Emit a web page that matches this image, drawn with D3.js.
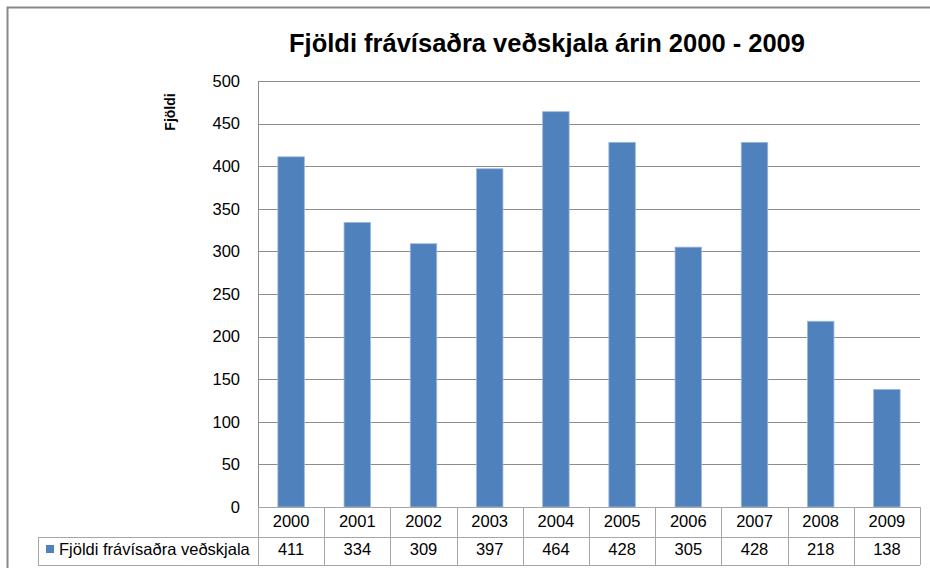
<!DOCTYPE html>
<html>
<head>
<meta charset="utf-8">
<script src="https://cdn.jsdelivr.net/npm/d3@7"></script>
<style>
  html, body { margin: 0; padding: 0; background: #fff; }
  svg { display: block; }
</style>
</head>
<body>
<svg id="chart" width="930" height="568"></svg>
<script>
const years = ["2000","2001","2002","2003","2004","2005","2006","2007","2008","2009"];
const values = [411, 334, 309, 397, 464, 428, 305, 428, 218, 138];
const yTicks = [0, 50, 100, 150, 200, 250, 300, 350, 400, 450, 500];
const seriesName = "Fjöldi frávísaðra veðskjala";
const chartTitle = "Fjöldi frávísaðra veðskjala árin 2000 - 2009";
const yTitle = "Fjöldi";

(function () {
const FONT = "'Liberation Sans', Arial, sans-serif";
const svg = d3.select("#chart");

// outer frame
svg.append("path")
  .attr("d", "M7.5,568 V7.5 H930")
  .attr("fill", "none").attr("stroke", "#888").attr("stroke-width", 2);

const pL = 258, pR = 920, pT = 81, pB = 507;
const x = d3.scaleBand().domain(years).range([pL, pR]).padding(0);
const y = d3.scaleLinear().domain([0, 500]).range([pB, pT]);

// gridlines
svg.append("g").selectAll("line").data(yTicks.filter(d => d > 0)).join("line")
  .attr("x1", pL).attr("x2", pR)
  .attr("y1", d => Math.round(y(d)) + 0.5).attr("y2", d => Math.round(y(d)) + 0.5)
  .attr("stroke", "#8c8c8c").attr("stroke-width", 1);

// y axis
const yAxis = d3.axisLeft(y).tickValues(yTicks).tickSize(0).tickPadding(18);
const gy = svg.append("g").attr("transform", `translate(${pL},0)`).call(yAxis);
gy.select(".domain").remove();
gy.selectAll("text").attr("font-family", FONT).attr("font-size", 16.5).attr("fill", "#000");
svg.append("line").attr("x1", pL + 0.5).attr("x2", pL + 0.5).attr("y1", pT).attr("y2", pB)
  .attr("stroke", "#8c8c8c");

// bars
const bw = x.bandwidth() / 2.5;
svg.append("g").selectAll("rect").data(values).join("rect")
  .attr("x", (d, i) => x(years[i]) + (x.bandwidth() - bw) / 2)
  .attr("width", bw)
  .attr("y", d => y(d))
  .attr("height", d => pB - y(d))
  .attr("fill", "#4F81BD")
  .attr("stroke", "#9DB8DC").attr("stroke-width", 0.8);

// data table
const tableLeft = 38, rowMid = 537, tableBottom = 565;
const tg = svg.append("g");
const gridColor = "#a6a6a6";
tg.append("line").attr("x1", pL).attr("x2", pR).attr("y1", pB + 0.5).attr("y2", pB + 0.5).attr("stroke", gridColor);
tg.append("line").attr("x1", tableLeft).attr("x2", pR).attr("y1", rowMid + 0.5).attr("y2", rowMid + 0.5).attr("stroke", gridColor);
tg.append("line").attr("x1", tableLeft).attr("x2", pR).attr("y1", tableBottom + 0.5).attr("y2", tableBottom + 0.5).attr("stroke", gridColor);
const vlines = years.map(d => x(d)).concat([pR]);
tg.selectAll("line.v").data(vlines).join("line").attr("class", "v")
  .attr("x1", d => Math.round(d) + 0.5).attr("x2", d => Math.round(d) + 0.5)
  .attr("y1", pB).attr("y2", tableBottom).attr("stroke", gridColor);
tg.append("line").attr("x1", tableLeft + 0.5).attr("x2", tableLeft + 0.5).attr("y1", rowMid).attr("y2", tableBottom).attr("stroke", gridColor);

tg.selectAll("text.yr").data(years).join("text").attr("class", "yr")
  .attr("x", d => x(d) + x.bandwidth() / 2).attr("y", 527)
  .attr("text-anchor", "middle").attr("font-family", FONT).attr("font-size", 16.5)
  .text(d => d);
tg.selectAll("text.val").data(values).join("text").attr("class", "val")
  .attr("x", (d, i) => x(years[i]) + x.bandwidth() / 2).attr("y", 555)
  .attr("text-anchor", "middle").attr("font-family", FONT).attr("font-size", 16.5)
  .text(d => d);
tg.append("rect").attr("x", 46).attr("y", 545).attr("width", 8).attr("height", 8).attr("fill", "#4F81BD");
tg.append("text").attr("x", 59).attr("y", 555).attr("font-family", FONT).attr("font-size", 16.5).text(seriesName);

svg.append("text").attr("x", 547).attr("y", 52).attr("text-anchor", "middle")
  .attr("font-family", FONT).attr("font-size", 25.5).attr("font-weight", "bold").text(chartTitle);

svg.append("text").attr("transform", "translate(175,112) rotate(-90)")
  .attr("text-anchor", "middle").attr("font-family", FONT).attr("font-size", 14).attr("font-weight", "bold")
  .text(yTitle);
})();
</script>
</body>
</html>
